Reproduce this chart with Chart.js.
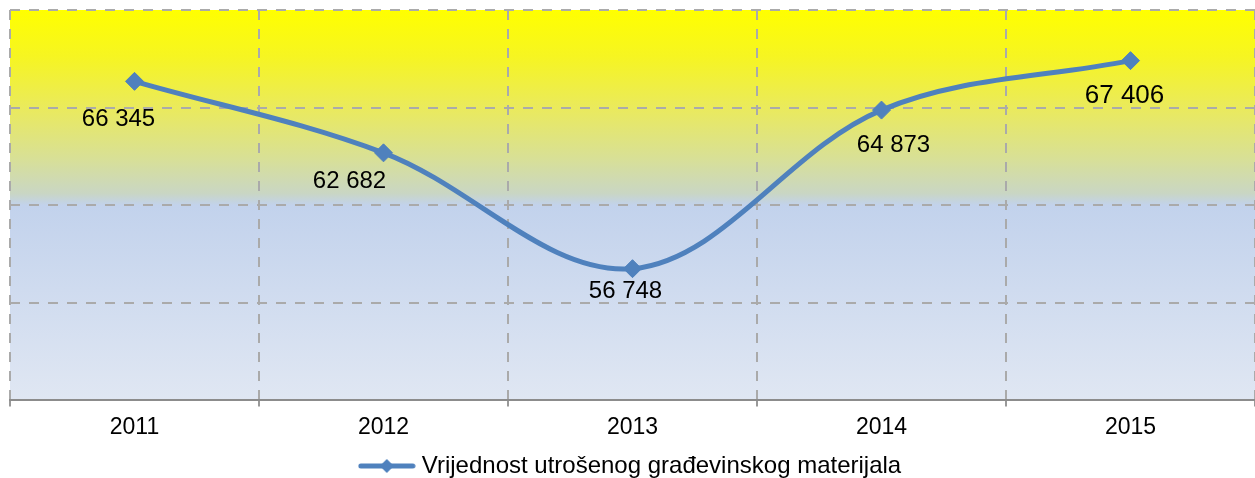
<!DOCTYPE html>
<html>
<head>
<meta charset="utf-8">
<script src="https://cdn.jsdelivr.net/npm/chart.js@4"></script>
<style>
  html, body { margin: 0; padding: 0; background: #fff; overflow: hidden; }
  #okvir { width: 1255px; height: 478px; }
</style>
</head>
<body>
<div id="okvir"><canvas id="grafica"></canvas></div>
<script>
// podaci
const godine = ['2011', '2012', '2013', '2014', '2015'];
const vrijednosti = [66345, 62682, 56748, 64873, 67406];
const oznake = ['66 345', '62 682', '56 748', '64 873', '67 406'];
const nazivSerije = 'Vrijednost utrošenog građevinskog materijala';
const yMin = 50000, yMax = 70000, yKorak = 5000;

// pomak oznaka od tocke (stil)
const pomakOznaka = [[-16, 38], [-34, 29], [-7, 23], [12, 35], [-6, 35]];
const velicinaOznaka = [24, 24, 24, 24, 26];

const plava = '#4f81bd';
const siva = '#aaaaaa';
const font = 'Liberation Sans, Arial, sans-serif';

// pozadina s gradijentom
const pozadina = {
  id: 'pozadina',
  beforeDraw(chart) {
    const { ctx, chartArea: a } = chart;
    const g = ctx.createLinearGradient(0, a.top, 0, a.bottom);
    g.addColorStop(0, '#ffff00');
    g.addColorStop(0.12, '#f6f522');
    g.addColorStop(0.25, '#eaea5c');
    g.addColorStop(0.38, '#d8e096');
    g.addColorStop(0.47, '#c9d6c4');
    g.addColorStop(0.5, '#c2d2ec');
    g.addColorStop(1, '#e0e7f3');
    ctx.save();
    ctx.fillStyle = g;
    ctx.fillRect(a.left, a.top, a.right - a.left, a.bottom - a.top);
    ctx.restore();
  }
};

// oznake vrijednosti
const oznakeVrijednosti = {
  id: 'oznakeVrijednosti',
  afterDatasetsDraw(chart) {
    const { ctx } = chart;
    const meta = chart.getDatasetMeta(0);
    ctx.save();
    ctx.fillStyle = '#000';
    ctx.textAlign = 'center';
    ctx.textBaseline = 'middle';
    meta.data.forEach((p, i) => {
      ctx.font = velicinaOznaka[i] + 'px ' + font;
      ctx.fillText(oznake[i], p.x + pomakOznaka[i][0], p.y + pomakOznaka[i][1]);
    });
    ctx.restore();
  }
};

// simbol za legendu: linija + romb
function simbolLegende() {
  const c = document.createElement('canvas');
  c.width = 58; c.height = 20;
  const x = c.getContext('2d');
  x.strokeStyle = plava;
  x.lineWidth = 5;
  x.lineCap = 'round';
  x.beginPath(); x.moveTo(3, 10); x.lineTo(55, 10); x.stroke();
  x.fillStyle = plava;
  x.beginPath(); x.moveTo(29, 3); x.lineTo(36, 10); x.lineTo(29, 17); x.lineTo(22, 10); x.closePath(); x.fill();
  return c;
}

const ctx = document.getElementById('grafica').getContext('2d');
const chart = new Chart(ctx, {
  type: 'line',
  data: {
    labels: godine,
    datasets: [{
      label: nazivSerije,
      data: vrijednosti,
      borderColor: plava,
      backgroundColor: plava,
      borderWidth: 5,
      pointStyle: 'rectRot',
      pointRadius: 9,
      pointBackgroundColor: plava,
      pointBorderColor: plava,
      pointBorderWidth: 1,
      tension: 0.35,
      fill: false
    }]
  },
  options: {
    responsive: true,
    maintainAspectRatio: false,
    animation: false,
    layout: { autoPadding: false, padding: { left: 10, top: 10, right: 0, bottom: -10 } },
    scales: {
      x: {
        offset: true,
        grid: {
          color: siva,
          lineWidth: 2,
          tickLength: 6,
          tickColor: '#999999',
          tickBorderDash: [],
          offset: true
        },
        border: { display: true, color: '#8c8c8c', width: 2, dash: [10, 9] },
        ticks: { color: '#000', font: { family: font, size: 23 }, padding: 7 }
      },
      y: {
        min: yMin,
        max: yMax,
        ticks: { display: false, stepSize: yKorak },
        grid: { color: siva, lineWidth: 2, drawTicks: false },
        border: { display: false, dash: [10, 9] }
      }
    },
    plugins: {
      legend: {
        position: 'bottom',
        labels: {
          usePointStyle: true,
          pointStyle: simbolLegende(),
          pointStyleWidth: 46,
          color: '#000',
          font: { family: font, size: 24 },
          padding: 6
        }
      },
      tooltip: { enabled: false }
    }
  },
  plugins: [pozadina, oznakeVrijednosti]
});
</script>
</body>
</html>
